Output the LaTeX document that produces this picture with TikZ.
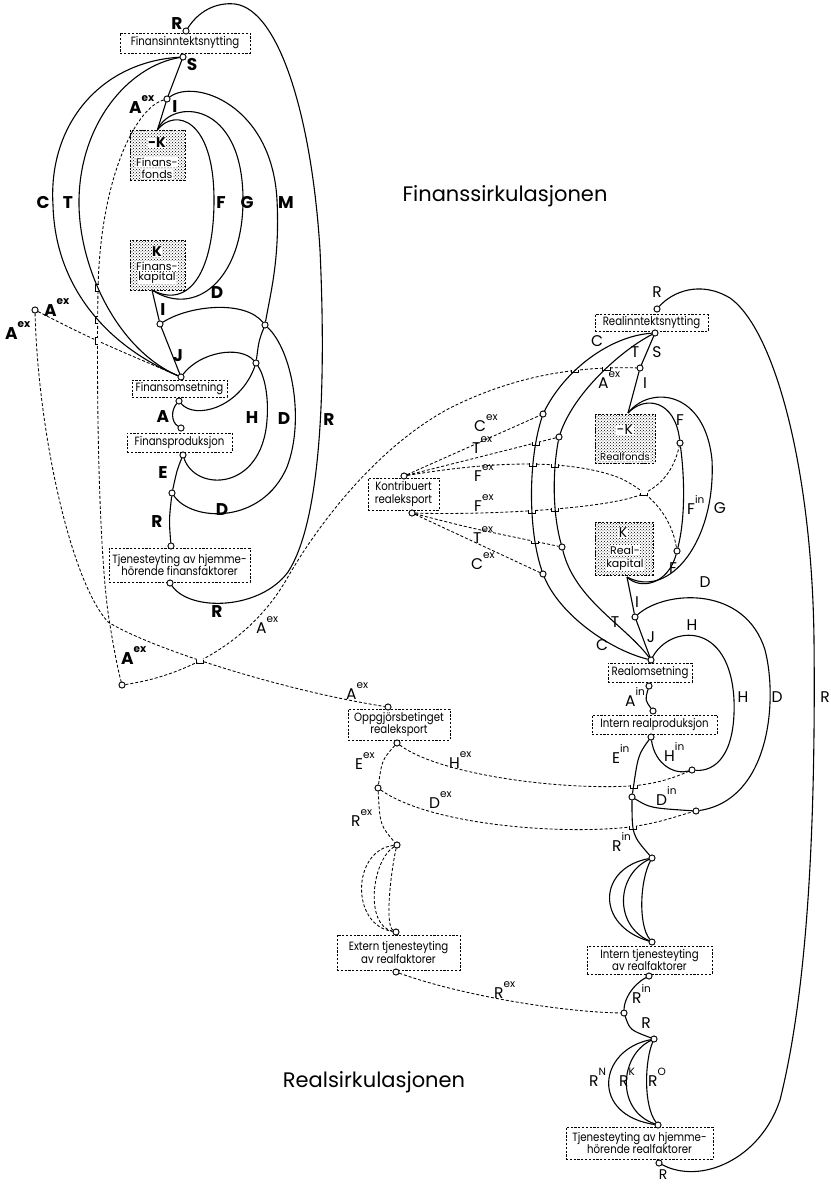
\documentclass[tikz,border=0pt]{standalone}
\usepackage{fontspec}
\setmainfont{Poppins}
\newfontfamily\bxf[FakeStretch=0.85]{Poppins}
\usetikzlibrary{patterns,intersections}
\newcommand{\supx}[2]{#1\raisebox{0.7em}{\fontsize{10.5}{10.5}\selectfont #2}}
\newcommand{\gapat}[2]{%
  \path[name intersections={of=#1 and #2, name=Q#1#2, total=\qt}] \pgfextra{\expandafter\xdef\csname qn#1#2\endcsname{\qt}};%
  \edef\qq{\csname qn#1#2\endcsname}%
  \ifnum\qq>0\relax
    \foreach \k in {1,...,\qq}{\fill[white] (Q#1#2-\k) circle (3.6pt);}%
  \fi}
\newcommand{\humph}[2]{%
  \edef\qq{\csname qn#1#2\endcsname}%
  \ifnum\qq>0\relax
    \foreach \k in {1,...,\qq}{\draw[hump] (Q#1#2-\k) ++(-3.6pt,0.6pt) -- ++(0pt,-3pt) -- ++(7.2pt,0pt) -- ++(0pt,3pt);}%
  \fi}
\newcommand{\humpv}[2]{%
  \edef\qq{\csname qn#1#2\endcsname}%
  \ifnum\qq>0\relax
    \foreach \k in {1,...,\qq}{\draw[hump] (Q#1#2-\k) ++(0.6pt,3.6pt) -- ++(-3pt,0pt) -- ++(0pt,-7.2pt) -- ++(3pt,0pt);}%
  \fi}
\begin{document}
\begin{tikzpicture}[x=1pt,y=-1pt,
  box/.style={draw, line width=0.7pt, dash pattern=on 2.2pt off 1.6pt, fill=white, inner sep=0pt, align=center, font=\bxf\fontsize{12}{12.5}\selectfont},
  kbox/.style={draw, line width=0.7pt, dash pattern=on 2.2pt off 1.6pt, pattern=crosshatch dots, pattern color=black, inner sep=0pt},
  ktxt/.style={fill=white, inner sep=0.5pt, font=\fontsize{11}{11}\selectfont},
  dot/.style={circle, draw, fill=white, minimum size=6pt, inner sep=0pt, line width=0.8pt},
  sol/.style={line width=1.1pt},
  dsh/.style={line width=0.85pt, dash pattern=on 3pt off 2pt},
  hump/.style={line width=0.8pt},
  flab/.style={font=\fontsize{17}{17}\selectfont\bfseries, inner sep=0pt},
  rlab/.style={font=\fontsize{15.5}{15.5}\selectfont, inner sep=0pt},
  ttl/.style={font=\fontsize{21}{21}\selectfont, inner sep=0pt}
]
\fill[white] (0,0) rectangle (830,1185);
\useasboundingbox (0,0) rectangle (830,1185);

% ---------------- titles
\node[ttl] (t1) at (505,196) {Finanssirkulasjonen};
\node[ttl] (t2) at (374,1082) {Realsirkulasjonen};

% ---------------- Finans boxes
\node[box, minimum width=130, minimum height=20] (fInn) at (185,43) {Finansinntektsnytting};
\node[kbox, minimum width=55, minimum height=50] (fFonds) at (157.5,155) {};
\node[ktxt, font=\fontsize{14}{14}\selectfont\bfseries] (fF1) at (157,143) {-K};
\node[ktxt] (fF2) at (157,162) {Finans-};
\node[ktxt] (fF3) at (157,174) {fonds};
\node[kbox, minimum width=55, minimum height=50] (fKap) at (157.5,265) {};
\node[ktxt, font=\fontsize{14}{14}\selectfont\bfseries] (fK1) at (157,252) {K};
\node[ktxt] (fK2) at (157,266) {Finans-};
\node[ktxt] (fK3) at (157,278) {kapital};
\node[box, minimum width=95, minimum height=17] (fOms) at (179.5,388.5) {Finansomsetning};
\node[box, minimum width=105, minimum height=19] (fProd) at (179.5,442.5) {Finansproduksjon};
\node[box, minimum width=141, minimum height=34] (fTjen) at (179.5,565) {Tjenesteyting av hjemme-\\hörende finansfaktorer};

% ---------------- Real boxes
\node[box, minimum width=113, minimum height=17] (rInn) at (651.5,323) {Realinntektsnytting};
\node[kbox, minimum width=60, minimum height=49] (rFonds) at (625,438.5) {};
\node[ktxt, font=\fontsize{14}{14}\selectfont] (rF1) at (625,430) {-K};
\node[ktxt, font=\fontsize{10}{10}\selectfont] (rF2) at (625,457) {Realfonds};
\node[kbox, minimum width=58, minimum height=53] (rKap) at (624,548.5) {};
\node[ktxt, font=\fontsize{14}{14}\selectfont] (rK1) at (623,533) {K};
\node[ktxt] (rK2) at (625,550) {Real-};
\node[ktxt] (rK3) at (625,565) {kapital};
\node[box, minimum width=71, minimum height=32] (rKontr) at (403.5,494) {Kontribuert\\realeksport};
\node[box, minimum width=84, minimum height=19] (rOms) at (650,672.5) {Realomsetning};
\node[box, minimum width=125, minimum height=19] (rProd) at (654.5,724.5) {Intern realproduksjon};
\node[box, minimum width=102, minimum height=31] (rOpp) at (399,724.5) {Oppgjörsbetinget\\realeksport};
\node[box, minimum width=123, minimum height=35] (rExt) at (398.5,952.5) {Extern tjenesteyting\\av realfaktorer};
\node[box, minimum width=125, minimum height=28] (rIntT) at (649.5,960) {Intern tjenesteyting\\av realfaktorer};
\node[box, minimum width=147, minimum height=32] (rTjen) at (639.5,1143) {Tjenesteyting av hjemme-\\hörende realfaktorer};

% ---------------- Finans junctions
\node[dot] (fR) at (186,31) {};
\node[dot] (fS) at (183,57) {};
\node[dot] (fI1) at (167,99) {};
\node[dot] (fI2) at (160,324) {};
\node[dot] (fJ) at (181,377) {};
\node[dot] (fOb) at (179,401) {};
\node[dot] (fPt) at (181,428) {};
\node[dot] (fPb) at (183,455) {};
\node[dot] (fER) at (172,493) {};
\node[dot] (fTt) at (171,546) {};
\node[dot] (fTb) at (170,583) {};
\node[dot] (fX1) at (265,325) {};
\node[dot] (fX2) at (256,363) {};
\node[dot] (fAx) at (35,310) {};
\node[dot] (fAb) at (122,685) {};
\coordinate (fKb) at (152,290);

% ---------------- Real junctions
\node[dot] (rR) at (657,309) {};
\node[dot] (rS) at (655,333) {};
\node[dot] (rI1) at (640,368) {};
\node[dot] (rFu) at (680,443) {};
\node[dot] (rFl) at (677,551) {};
\node[dot] (rCu) at (543,414) {};
\node[dot] (rCl) at (543,574) {};
\node[dot] (rTu) at (559,437) {};
\node[dot] (rTl) at (562,547) {};
\node[dot] (rI2) at (635,617) {};
\node[dot] (rJ) at (651,660) {};
\node[dot] (rOb) at (649,686) {};
\node[dot] (rPt) at (653,711) {};
\node[dot] (rPb) at (651,737) {};
\node[dot] (rHin) at (692,770) {};
\node[dot] (rED) at (632,797) {};
\node[dot] (rDin) at (696,811) {};
\node[dot] (rRin) at (652,858) {};
\node[dot] (rIt) at (652,942) {};
\node[dot] (rIb) at (649,976) {};
\node[dot] (rRx) at (624,1013) {};
\node[dot] (rR2) at (654,1039) {};
\node[dot] (rTt) at (658,1125) {};
\node[dot] (rTb) at (659,1163) {};
\node[dot] (kT) at (404,476) {};
\node[dot] (kB) at (412,513) {};
\node[dot] (oT) at (388,707) {};
\node[dot] (oB) at (397,743) {};
\node[dot] (oE) at (378,788) {};
\node[dot] (oR) at (397,845) {};
\node[dot] (eT) at (396,932) {};
\node[dot] (eB) at (396,972) {};
\coordinate (rFt) at (628,413);
\coordinate (rKb) at (627,577);

% ================= invisible copies of solid paths that dashed lines hop over
\path[name path=fC] (fS) .. controls (100,62) and (48,125) .. (53,205) .. controls (55,285) and (105,345) .. (fJ);
\path[name path=fT] (fS) .. controls (128,66) and (78,125) .. (79,205) .. controls (80,270) and (118,350) .. (fJ);
\path[name path=sC] (rS) .. controls (610,336) and (565,370) .. (rCu) .. controls (528,460) and (528,530) .. (rCl) .. controls (560,615) and (610,650) .. (rJ);
\path[name path=sT] (rS) .. controls (625,348) and (575,390) .. (rTu) .. controls (552,475) and (553,515) .. (rTl) .. controls (575,600) and (625,625) .. (rJ);
\path[name path=sE] (rPb) .. controls (638,755) .. (rED);
\path[name path=sRi] (rED) .. controls (632,835) .. (rRin);

% ================= Finans dashed
\draw[dsh, name path=dB] (fI1) .. controls (135,108) and (100,180) .. (98,290) .. controls (96,420) and (100,570) .. (110,625) .. controls (114,650) and (118,670) .. (fAb);
\draw[dsh, name path=dAc] (fAx) .. controls (38,430) and (70,580) .. (108,622) .. controls (150,648) and (280,690) .. (oT);
\draw[dsh, name path=dAJ] (fAx) .. controls (90,338) .. (fJ);
\draw[dsh, name path=dD] (fAb) .. controls (190,675) and (250,640) .. (285,582) .. controls (320,520) and (380,445) .. (450,408) .. controls (510,378) and (570,366) .. (rI1);

% ================= Real dashed
\draw[dsh] (kT) -- (rCu);
\draw[dsh, name path=dTu] (kT) -- (rTu);
\draw[dsh, name path=dFu] (kT) .. controls (470,465) and (560,455) .. (620,478) .. controls (655,495) and (672,520) .. (rFl);
\draw[dsh, name path=dFl] (kB) .. controls (480,515) and (600,510) .. (640,495) .. controls (665,485) and (675,465) .. (rFu);
\draw[dsh, name path=dTl] (kB) .. controls (470,528) .. (rTl);
\draw[dsh] (kB) -- (rCl);
\draw[dsh, name path=dH] (oB) .. controls (440,775) and (560,790) .. (630,786) .. controls (660,784) and (680,775) .. (rHin);
\draw[dsh, name path=dDx] (oE) .. controls (430,825) and (560,835) .. (630,827) .. controls (660,823) and (680,815) .. (rDin);
\draw[dsh] (oB) .. controls (382,760) .. (oE);
\draw[dsh] (oE) .. controls (380,825) .. (oR);
\draw[dsh] (oR) .. controls (352,850) and (350,925) .. (eT);
\draw[dsh] (oR) .. controls (372,860) and (364,925) .. (eT);
\draw[dsh] (oR) .. controls (392,865) and (384,925) .. (eT);
\draw[dsh] (eB) .. controls (460,995) and (560,1012) .. (rRx);

% gaps where dashed lines pass the other lines
\gapat{dB}{fC}
\gapat{dB}{fT}
\gapat{dB}{dAJ}
\gapat{dAc}{dD}
\gapat{dD}{sC}
\gapat{dD}{sT}
\gapat{dTu}{sC}
\gapat{dFu}{sC}
\gapat{dFu}{sT}
\gapat{dFl}{sC}
\gapat{dFl}{sT}
\gapat{dFu}{dFl}
\gapat{dTl}{sC}
\gapat{dH}{sE}
\gapat{dDx}{sRi}

% ================= Finans solid
\draw[sol] (fR) .. controls (198,12) and (215,2) .. (235,4) .. controls (280,10) and (312,120) .. (320,250) .. controls (326,380) and (322,520) .. (288,572) .. controls (260,610) and (190,612) .. (fTb);
\draw[sol] (fS) .. controls (100,62) and (48,125) .. (53,205) .. controls (55,285) and (105,345) .. (fJ);
\draw[sol] (fS) .. controls (128,66) and (78,125) .. (79,205) .. controls (80,270) and (118,350) .. (fJ);
\draw[sol] (fS) -- (fI1);
\draw[sol] (fI1) -- (fFonds.north);
\draw[sol] (fI1) .. controls (195,78) and (272,105) .. (277,200) .. controls (280,260) and (270,295) .. (fX1);
\draw[sol] (fFonds.north) .. controls (175,108) and (214,118) .. (214,200) .. controls (214,270) and (190,310) .. (fKb);
\draw[sol] (fFonds.north) .. controls (172,98) and (243,100) .. (243,200) .. controls (243,280) and (195,318) .. (fKb);
\draw[sol] (fKb) -- (fI2);
\draw[sol] (fI2) -- (fJ);
\draw[sol] (fI2) .. controls (190,305) and (245,300) .. (fX1);
\draw[sol] (fX1) .. controls (259,340) .. (fX2);
\draw[sol] (fJ) .. controls (200,352) and (240,345) .. (fX2);
\draw[sol] (fOb) .. controls (195,420) and (240,408) .. (fX2);
\draw[sol] (fPb) .. controls (195,492) and (262,492) .. (267,420) .. controls (269,395) and (264,375) .. (fX2);
\draw[sol] (fER) .. controls (192,522) and (262,525) .. (287,467) .. controls (305,420) and (292,350) .. (fX1);
\draw[sol] (fOb) .. controls (171,410) and (171,422) .. (fPt);
\draw[sol] (fPb) .. controls (177,470) .. (fER);
\draw[sol] (fER) .. controls (169,520) .. (fTt);

% ================= Real solid
\draw[sol] (rR) .. controls (672,292) and (700,280) .. (730,298) .. controls (775,330) and (812,470) .. (814,640) .. controls (816,850) and (805,1000) .. (780,1100) .. controls (760,1160) and (700,1185) .. (rTb);
\draw[sol] (rS) .. controls (610,336) and (565,370) .. (rCu) .. controls (528,460) and (528,530) .. (rCl) .. controls (560,615) and (610,650) .. (rJ);
\draw[sol] (rS) .. controls (625,348) and (575,390) .. (rTu) .. controls (552,475) and (553,515) .. (rTl) .. controls (575,600) and (625,625) .. (rJ);
\draw[sol] (rS) -- (rI1);
\draw[sol] (rI1) -- (rFt);
\draw[sol] (rFt) .. controls (645,395) and (675,400) .. (rFu) .. controls (685,480) and (685,520) .. (rFl) .. controls (668,585) and (640,590) .. (rKb);
\draw[sol] (rFt) .. controls (650,385) and (705,390) .. (712,460) .. controls (716,540) and (670,600) .. (rKb);
\draw[sol] (rKb) -- (rI2);
\draw[sol] (rI2) -- (rJ);
\draw[sol] (rI2) .. controls (665,590) and (745,585) .. (765,650) .. controls (778,700) and (770,800) .. (rDin);
\draw[sol] (rJ) .. controls (670,625) and (730,620) .. (734,700) .. controls (736,755) and (715,772) .. (rHin);
\draw[sol] (rOb) .. controls (645,700) .. (rPt);
\draw[sol] (rPb) .. controls (655,765) and (675,775) .. (rHin);
\draw[sol] (rPb) .. controls (638,755) .. (rED);
\draw[sol] (rED) .. controls (650,808) .. (rDin);
\draw[sol] (rED) .. controls (632,835) .. (rRin);
\draw[sol] (rRin) .. controls (598,868) and (595,925) .. (rIt);
\draw[sol] (rRin) .. controls (616,875) and (614,925) .. (rIt);
\draw[sol] (rRin) .. controls (640,880) and (638,925) .. (rIt);
\draw[sol] (rIb) .. controls (632,985) and (624,1000) .. (rRx);
\draw[sol] (rRx) .. controls (630,1030) .. (rR2);
\draw[sol] (rR2) .. controls (598,1050) and (590,1115) .. (rTt);
\draw[sol] (rR2) .. controls (620,1055) and (615,1110) .. (rTt);
\draw[sol] (rR2) .. controls (645,1060) and (643,1105) .. (rTt);

% hops of dashed lines over other lines
\humpv{dB}{fC}
\humpv{dB}{fT}
\humpv{dB}{dAJ}
\humph{dAc}{dD}
\humph{dD}{sC}
\humph{dD}{sT}
\humph{dTu}{sC}
\humph{dFu}{sC}
\humph{dFu}{sT}
\humph{dFl}{sC}
\humph{dFl}{sT}
\humph{dFu}{dFl}
\humph{dTl}{sC}
\humph{dH}{sE}
\humph{dDx}{sRi}

% redraw junction circles on top
\foreach \n in {fR,fS,fI1,fI2,fJ,fOb,fPt,fPb,fER,fTt,fTb,fX1,fX2,fAx,fAb,rR,rS,rI1,rFu,rFl,rCu,rCl,rTu,rTl,rI2,rJ,rOb,rPt,rPb,rHin,rED,rDin,rRin,rIt,rIb,rRx,rR2,rTt,rTb,kT,kB,oT,oB,oE,oR,eT,eB}
  \draw[line width=0.8pt, fill=white] (\n) circle (3pt);

% ================= Finans labels
\node[flab] (a1) at (177,24) {R};
\node[flab] (a2) at (192,65) {S};
\node[flab, anchor=base west] (a3) at (129,113.5) {\supx{A}{ex}};
\node[flab] (a4) at (175,107) {I};
\node[flab] (a5) at (43,203) {C};
\node[flab] (a6) at (68,203) {T};
\node[flab] (a7) at (221,203) {F};
\node[flab] (a8) at (247,203) {G};
\node[flab] (a9) at (286,203) {M};
\node[flab] (a10) at (217,293) {D};
\node[flab] (a11) at (163,310) {I};
\node[flab] (a12) at (178,356) {J};
\node[flab] (a13) at (163,417) {A};
\node[flab] (a14) at (252,418) {H};
\node[flab] (a15) at (284,419) {D};
\node[flab] (a16) at (329,420) {R};
\node[flab] (a17) at (163,473) {E};
\node[flab] (a18) at (222,510) {D};
\node[flab] (a19) at (157,522) {R};
\node[flab] (a20) at (217,612) {R};
\node[flab, anchor=base west] (a21) at (5,339.5) {\supx{A}{ex}};
\node[flab, anchor=base west] (a22) at (44,316.5) {\supx{A}{ex}};
\node[flab, anchor=base west] (a23) at (121,664.5) {\supx{A}{ex}};
\node[rlab, anchor=base west] (a24) at (256,633) {\supx{A}{ex}};

% ================= Real labels
\node[rlab] (b1) at (657,292) {R};
\node[rlab] (b2) at (597,341) {C};
\node[rlab] (b3) at (635,352) {T};
\node[rlab] (b4) at (657,352) {S};
\node[rlab, anchor=base west] (b5) at (598,388) {\supx{A}{ex}};
\node[rlab] (b6) at (645,383) {I};
\node[rlab] (b7) at (680,420) {F};
\node[rlab, anchor=base west] (b8) at (687,514) {\supx{F}{in}};
\node[rlab] (b9) at (720,508) {G};
\node[rlab] (b10) at (673,568) {F};
\node[rlab] (b11) at (705,582) {D};
\node[rlab] (b12) at (637,602) {I};
\node[rlab] (b13) at (615,622) {T};
\node[rlab] (b14) at (602,645) {C};
\node[rlab] (b15) at (651,637) {J};
\node[rlab] (b16) at (692,625) {H};
\node[rlab] (b17) at (743,697) {H};
\node[rlab] (b18) at (777,697) {D};
\node[rlab] (b19) at (825,697) {R};
\node[rlab, anchor=base west] (b20) at (625,706) {\supx{A}{in}};
\node[rlab, anchor=base west] (b21) at (612,763) {\supx{E}{in}};
\node[rlab, anchor=base west] (b22) at (664,761) {\supx{H}{in}};
\node[rlab, anchor=base west] (b23) at (656,805) {\supx{D}{in}};
\node[rlab, anchor=base west] (b24) at (612,851) {\supx{R}{in}};
\node[rlab, anchor=base west] (b25) at (449,768) {\supx{H}{ex}};
\node[rlab, anchor=base west] (b26) at (429,808) {\supx{D}{ex}};
\node[rlab, anchor=base west] (b27) at (355,769) {\supx{E}{ex}};
\node[rlab, anchor=base west] (b28) at (351,826) {\supx{R}{ex}};
\node[rlab, anchor=base west] (b29) at (346,699) {\supx{A}{ex}};
\node[rlab, anchor=base west] (b30) at (474,431) {\supx{C}{ex}};
\node[rlab, anchor=base west] (b31) at (472,453) {\supx{T}{ex}};
\node[rlab, anchor=base west] (b32) at (474,481) {\supx{F}{ex}};
\node[rlab, anchor=base west] (b33) at (474,511) {\supx{F}{ex}};
\node[rlab, anchor=base west] (b34) at (473,543) {\supx{T}{ex}};
\node[rlab, anchor=base west] (b35) at (471,569) {\supx{C}{ex}};
\node[rlab, anchor=base west] (b36) at (494,998) {\supx{R}{ex}};
\node[rlab, anchor=base west] (b37) at (632,1003) {\supx{R}{in}};
\node[rlab] (b38) at (646,1023) {R};
\node[rlab, anchor=base west] (b39) at (589,1086) {\supx{R}{N}};
\node[rlab, anchor=base west] (b40) at (619,1086) {\supx{R}{K}};
\node[rlab, anchor=base west] (b41) at (648,1086) {\supx{R}{O}};
\node[rlab, font=\fontsize{14}{14}\selectfont] (b42) at (663,1175) {R};
\end{tikzpicture}
\end{document}
